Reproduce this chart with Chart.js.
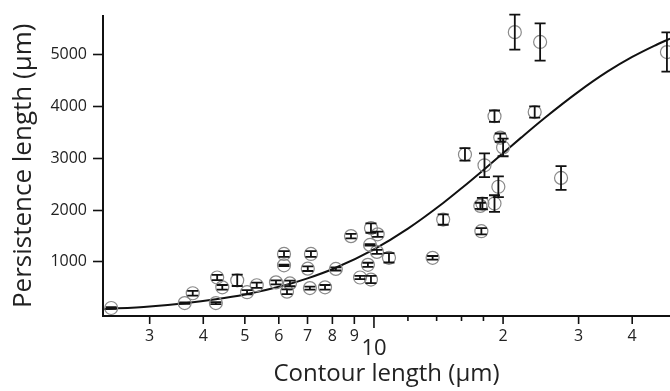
<!DOCTYPE html>
<html>
<head>
<meta charset="utf-8">
<script src="https://cdn.jsdelivr.net/npm/chart.js@4"></script>
<style>
  body { margin: 0; background: #fff; }
  #wrap { width: 670px; height: 391px; }
</style>
</head>
<body>
<div id="wrap"><canvas id="chart"></canvas></div>
<script>
// measured points: contour length (um), persistence length (um), error (+/-)
var contour = [2.44, 3.62, 3.78, 4.28, 4.31, 4.43, 4.80, 5.06, 5.33, 5.91,
    6.17, 6.17, 6.27, 6.37, 7.01, 7.13, 7.09, 7.69, 8.15, 8.84,
    9.84, 10.2, 9.79, 10.16, 10.84, 9.68, 9.28, 9.84, 13.7, 14.5,
    17.8, 16.3, 18.1, 19.7, 20.0, 19.5, 19.1, 17.9, 17.7, 19.1,
    23.7, 21.3, 24.4, 27.3, 48.2];
var persistence = [105, 200, 390, 200, 695, 505, 640, 410, 545, 600,
    1150, 930, 420, 580, 865, 1150, 490, 505, 860, 1495,
    1650, 1530, 1325, 1190, 1075, 940, 695, 655, 1075, 1815,
    1590, 3075, 2865, 3400, 3210, 2450, 2125, 2125, 2080, 3815,
    3895, 5440, 5250, 2620, 5055];
var errors = [15, 15, 45, 20, 50, 45, 110, 40, 50, 40,
    55, 15, 45, 55, 45, 55, 30, 45, 30, 45,
    90, 50, 15, 40, 90, 40, 30, 70, 35, 100,
    60, 120, 230, 80, 170, 200, 160, 110, 60, 110,
    110, 340, 360, 230, 380];

// fitted curve
var fitX = [2.335, 2.44, 3.0, 3.62, 4.28, 5, 6.17, 7, 8.07, 10, 12, 14.5, 16, 18, 20, 22, 25, 30, 35, 40, 45, 49];
var fitY = [83, 91, 136, 197, 272, 365, 539, 677, 868, 1240, 1640, 2135, 2420, 2775, 3100, 3395, 3780, 4290, 4675, 4960, 5175, 5315];

var xMajor = [3, 4, 5, 6, 7, 8, 9, 20, 30, 40];
var xMajorLabels = ['3', '4', '5', '6', '7', '8', '9', '2', '3', '4'];
var xMinor = [12, 14, 16, 18];
var yTicks = [1000, 2000, 3000, 4000, 5000];

var FONT = "'Open Sans', sans-serif";
var TXT = '#222';

var errorBars = {
    id: 'errorBars',
    afterDatasetsDraw: function (chart) {
        var ctx = chart.ctx, xs = chart.scales.x, ys = chart.scales.y;
        ctx.save();
        ctx.strokeStyle = '#111';
        ctx.lineWidth = 1.8;
        for (var i = 0; i < contour.length; i++) {
            var px = xs.getPixelForValue(contour[i]);
            var top = ys.getPixelForValue(persistence[i] + errors[i]);
            var bot = ys.getPixelForValue(persistence[i] - errors[i]);
            ctx.beginPath();
            ctx.moveTo(px, top); ctx.lineTo(px, bot);
            ctx.moveTo(px - 5.5, top); ctx.lineTo(px + 5.5, top);
            ctx.moveTo(px - 5.5, bot); ctx.lineTo(px + 5.5, bot);
            ctx.stroke();
        }
        ctx.restore();
    }
};

var xAxisMarks = {
    id: 'xAxisMarks',
    afterDraw: function (chart) {
        var ctx = chart.ctx, xs = chart.scales.x;
        var base = chart.chartArea.bottom;
        ctx.save();
        ctx.strokeStyle = '#111';
        ctx.lineWidth = 1.6;
        ctx.fillStyle = TXT;
        ctx.textAlign = 'center';
        ctx.textBaseline = 'middle';
        ctx.font = '16px ' + FONT;
        xMajor.forEach(function (v, i) {
            var px = xs.getPixelForValue(v);
            ctx.beginPath(); ctx.moveTo(px, base); ctx.lineTo(px, base + 8); ctx.stroke();
            ctx.fillText(xMajorLabels[i], px, base + 20);
        });
        xMinor.forEach(function (v) {
            var px = xs.getPixelForValue(v);
            ctx.beginPath(); ctx.moveTo(px, base); ctx.lineTo(px, base + 5); ctx.stroke();
        });
        var p10 = xs.getPixelForValue(10);
        ctx.beginPath(); ctx.moveTo(p10, base); ctx.lineTo(p10, base + 12); ctx.stroke();
        ctx.font = '22px ' + FONT;
        ctx.fillText('10', p10, base + 33);
        ctx.restore();
    }
};

new Chart(document.getElementById('chart').getContext('2d'), {
    data: {
        datasets: [
            {
                type: 'scatter',
                data: contour.map(function (x, i) { return {x: x, y: persistence[i]}; }),
                pointRadius: 6.5,
                pointStyle: 'circle',
                backgroundColor: 'rgba(0,0,0,0)',
                borderColor: '#8a8a8a',
                pointBorderWidth: 1.2,
                clip: false
            },
            {
                type: 'line',
                data: fitX.map(function (x, i) { return {x: x, y: fitY[i]}; }),
                borderColor: '#111',
                borderWidth: 2,
                pointRadius: 0,
                cubicInterpolationMode: 'monotone',
                fill: false
            }
        ]
    },
    options: {
        responsive: true,
        maintainAspectRatio: false,
        animation: false,
        layout: { autoPadding: false, padding: { top: 11, right: 0, left: 0, bottom: 0 } },
        plugins: { legend: { display: false }, tooltip: { enabled: false } },
        scales: {
            x: {
                type: 'logarithmic',
                min: 2.335,
                max: 49,
                border: { display: true, color: '#111', width: 2 },
                grid: { display: true, drawOnChartArea: false, drawTicks: false },
                ticks: { display: false },
                title: {
                    display: true,
                    text: 'Contour length (µm)',
                    color: TXT,
                    font: { family: FONT, size: 24 },
                    padding: { top: 0, bottom: 2 }
                },
                afterFit: function (scale) { scale.height = 75; }
            },
            y: {
                min: -50,
                max: 5760,
                border: { display: true, color: '#111', width: 2 },
                grid: { display: true, drawOnChartArea: false, drawTicks: true, tickLength: 10, color: '#111', tickWidth: 1.6 },
                ticks: {
                    color: TXT,
                    font: { family: FONT, size: 16 },
                    padding: 6,
                    callback: function (v) { return String(v); }
                },
                afterBuildTicks: function (scale) {
                    scale.ticks = yTicks.map(function (v) { return {value: v}; });
                },
                title: {
                    display: true,
                    text: 'Persistence length (µm)',
                    color: TXT,
                    font: { family: FONT, size: 26 },
                    padding: { top: 8, bottom: 4 }
                },
                afterFit: function (scale) { scale.width = 103; }
            }
        }
    },
    plugins: [errorBars, xAxisMarks]
});
</script>
</body>
</html>
